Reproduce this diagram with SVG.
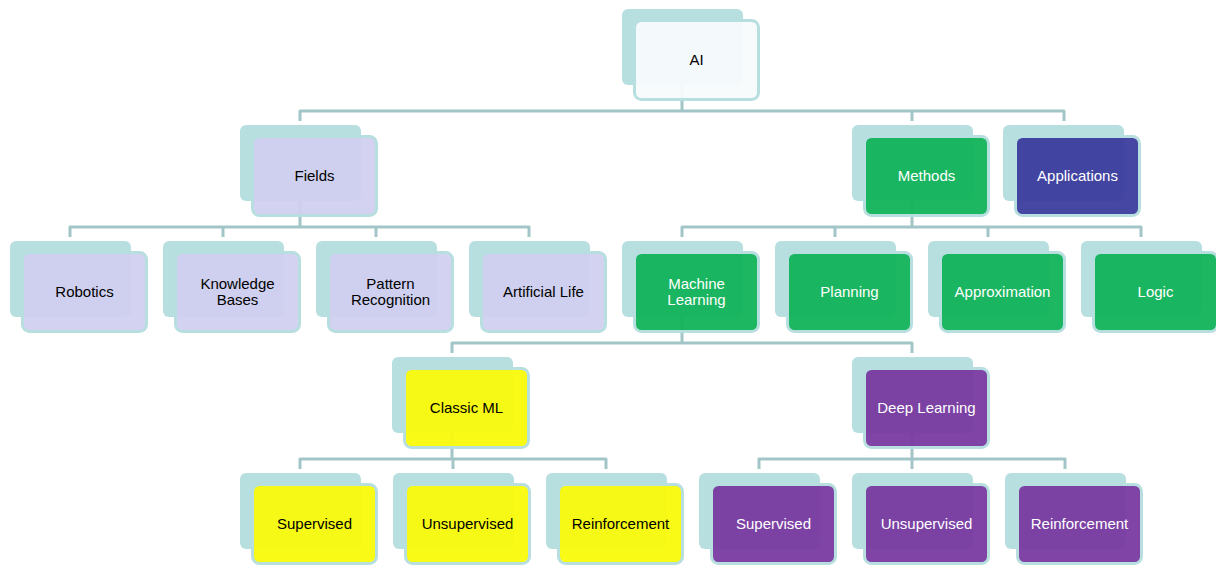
<svg xmlns="http://www.w3.org/2000/svg" width="1216" height="565" viewBox="0 0 1216 565">
  <style>
    .back { fill: #b8dfe0; }
    .front { stroke: #b8dfe0; stroke-width: 3; fill-opacity: 0.94; }
    .lbl { font-family: "Liberation Sans", Arial, sans-serif; font-size: 15px; text-anchor: middle; dominant-baseline: central; transform: translateY(-1px); }
    .dark { fill: #000000; }
    .light { fill: #ffffff; }
    .conn { fill: none; stroke: #a2c5c7; stroke-width: 3; stroke-linejoin: round; stroke-linecap: butt; }
    .white { fill: #f8fbfc; }
    .lav { fill: #d0cfef; }
    .green { fill: #10b257; }
    .navy { fill: #3a3a9d; }
    .yellow { fill: #fafa08; }
    .purple { fill: #77389f; }
  </style>

  <!-- connectors, drawn under the nodes -->
  <g id="connectors">
    <!-- AI -> Fields / Methods / Applications -->
    <path class="conn" d="M682 85 V111"/>
    <path class="conn" d="M300 121 V111 H1064 V121"/>
    <path class="conn" d="M912 111 V121"/>
    <!-- Fields -> children -->
    <path class="conn" d="M300 201 V227"/>
    <path class="conn" d="M70 237 V227 H529 V237"/>
    <path class="conn" d="M223 227 V237 M376 227 V237"/>
    <!-- Methods -> children -->
    <path class="conn" d="M912 201 V227"/>
    <path class="conn" d="M682 237 V227 H1141 V237"/>
    <path class="conn" d="M835 227 V237 M988 227 V237"/>
    <!-- Machine Learning -> Classic ML / Deep Learning -->
    <path class="conn" d="M682 317 V343"/>
    <path class="conn" d="M452 353 V343 H912 V353"/>
    <!-- Classic ML -> children -->
    <path class="conn" d="M452 433 V459"/>
    <path class="conn" d="M300 469 V459 H606 V469"/>
    <path class="conn" d="M453 459 V469"/>
    <!-- Deep Learning -> children -->
    <path class="conn" d="M912 433 V459"/>
    <path class="conn" d="M759 469 V459 H1065 V469"/>
    <path class="conn" d="M912 459 V469"/>
  </g>

  <g id="node-ai">
    <rect class="back" x="622" y="9" width="121" height="76" rx="6"/>
    <rect class="front white" x="634.5" y="20.5" width="124" height="79" rx="7"/>
    <text class="lbl dark" x="696.5" y="60">AI</text>
  </g>

  <g id="node-fields">
    <rect class="back" x="240" y="125" width="121" height="76" rx="6"/>
    <rect class="front lav" x="252.5" y="136.5" width="124" height="79" rx="7"/>
    <text class="lbl dark" x="314.5" y="176">Fields</text>
  </g>

  <g id="node-methods">
    <rect class="back" x="852" y="125" width="121" height="76" rx="6"/>
    <rect class="front green" x="864.5" y="136.5" width="124" height="79" rx="7"/>
    <text class="lbl light" x="926.5" y="176">Methods</text>
  </g>

  <g id="node-applications">
    <rect class="back" x="1003" y="125" width="121" height="76" rx="6"/>
    <rect class="front navy" x="1015.5" y="136.5" width="124" height="79" rx="7"/>
    <text class="lbl light" x="1077.5" y="176">Applications</text>
  </g>

  <g id="node-robotics">
    <rect class="back" x="10" y="241" width="121" height="76" rx="6"/>
    <rect class="front lav" x="22.5" y="252.5" width="124" height="79" rx="7"/>
    <text class="lbl dark" x="84.5" y="292">Robotics</text>
  </g>

  <g id="node-knowledge-bases">
    <rect class="back" x="163" y="241" width="121" height="76" rx="6"/>
    <rect class="front lav" x="175.5" y="252.5" width="124" height="79" rx="7"/>
    <text class="lbl dark" x="237.5" y="284">Knowledge</text>
    <text class="lbl dark" x="237.5" y="300">Bases</text>
  </g>

  <g id="node-pattern-recognition">
    <rect class="back" x="316" y="241" width="121" height="76" rx="6"/>
    <rect class="front lav" x="328.5" y="252.5" width="124" height="79" rx="7"/>
    <text class="lbl dark" x="390.5" y="284">Pattern</text>
    <text class="lbl dark" x="390.5" y="300">Recognition</text>
  </g>

  <g id="node-artificial-life">
    <rect class="back" x="469" y="241" width="121" height="76" rx="6"/>
    <rect class="front lav" x="481.5" y="252.5" width="124" height="79" rx="7"/>
    <text class="lbl dark" x="543.5" y="292">Artificial Life</text>
  </g>

  <g id="node-machine-learning">
    <rect class="back" x="622" y="241" width="121" height="76" rx="6"/>
    <rect class="front green" x="634.5" y="252.5" width="124" height="79" rx="7"/>
    <text class="lbl light" x="696.5" y="284">Machine</text>
    <text class="lbl light" x="696.5" y="300">Learning</text>
  </g>

  <g id="node-planning">
    <rect class="back" x="775" y="241" width="121" height="76" rx="6"/>
    <rect class="front green" x="787.5" y="252.5" width="124" height="79" rx="7"/>
    <text class="lbl light" x="849.5" y="292">Planning</text>
  </g>

  <g id="node-approximation">
    <rect class="back" x="928" y="241" width="121" height="76" rx="6"/>
    <rect class="front green" x="940.5" y="252.5" width="124" height="79" rx="7"/>
    <text class="lbl light" x="1002.5" y="292">Approximation</text>
  </g>

  <g id="node-logic">
    <rect class="back" x="1081" y="241" width="121" height="76" rx="6"/>
    <rect class="front green" x="1093.5" y="252.5" width="124" height="79" rx="7"/>
    <text class="lbl light" x="1155.5" y="292">Logic</text>
  </g>

  <g id="node-classic-ml">
    <rect class="back" x="392" y="357" width="121" height="76" rx="6"/>
    <rect class="front yellow" x="404.5" y="368.5" width="124" height="79" rx="7"/>
    <text class="lbl dark" x="466.5" y="408">Classic ML</text>
  </g>

  <g id="node-deep-learning">
    <rect class="back" x="852" y="357" width="121" height="76" rx="6"/>
    <rect class="front purple" x="864.5" y="368.5" width="124" height="79" rx="7"/>
    <text class="lbl light" x="926.5" y="408">Deep Learning</text>
  </g>

  <g id="node-cml-supervised">
    <rect class="back" x="240" y="473" width="121" height="76" rx="6"/>
    <rect class="front yellow" x="252.5" y="484.5" width="124" height="79" rx="7"/>
    <text class="lbl dark" x="314.5" y="524">Supervised</text>
  </g>

  <g id="node-cml-unsupervised">
    <rect class="back" x="393" y="473" width="121" height="76" rx="6"/>
    <rect class="front yellow" x="405.5" y="484.5" width="124" height="79" rx="7"/>
    <text class="lbl dark" x="467.5" y="524">Unsupervised</text>
  </g>

  <g id="node-cml-reinforcement">
    <rect class="back" x="546" y="473" width="121" height="76" rx="6"/>
    <rect class="front yellow" x="558.5" y="484.5" width="124" height="79" rx="7"/>
    <text class="lbl dark" x="620.5" y="524">Reinforcement</text>
  </g>

  <g id="node-dl-supervised">
    <rect class="back" x="699" y="473" width="121" height="76" rx="6"/>
    <rect class="front purple" x="711.5" y="484.5" width="124" height="79" rx="7"/>
    <text class="lbl light" x="773.5" y="524">Supervised</text>
  </g>

  <g id="node-dl-unsupervised">
    <rect class="back" x="852" y="473" width="121" height="76" rx="6"/>
    <rect class="front purple" x="864.5" y="484.5" width="124" height="79" rx="7"/>
    <text class="lbl light" x="926.5" y="524">Unsupervised</text>
  </g>

  <g id="node-dl-reinforcement">
    <rect class="back" x="1005" y="473" width="121" height="76" rx="6"/>
    <rect class="front purple" x="1017.5" y="484.5" width="124" height="79" rx="7"/>
    <text class="lbl light" x="1079.5" y="524">Reinforcement</text>
  </g>
</svg>
